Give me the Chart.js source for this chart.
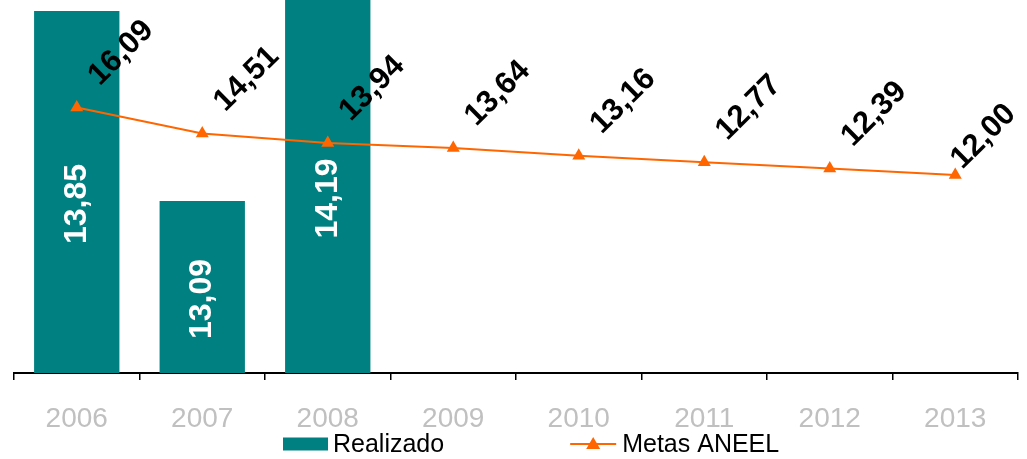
<!DOCTYPE html>
<html>
<head>
<meta charset="utf-8">
<script src="https://cdn.jsdelivr.net/npm/chart.js@4/dist/chart.umd.min.js"></script>
<style>
  body { margin: 0; background: #fff; }
  #caixa { width: 1027px; height: 459px; position: relative; }
</style>
</head>
<body>
<div id="caixa"><canvas id="grafico"></canvas></div>
<script>
const anos = ['2006', '2007', '2008', '2009', '2010', '2011', '2012', '2013'];
const realizado = [13.85, 13.09, 14.19, null, null, null, null, null];
const metasAneel = [16.09, 14.51, 13.94, 13.64, 13.16, 12.77, 12.39, 12.00];
const nomes = ['Realizado', 'Metas ANEEL'];

const corBarra = '#008080';
const corLinha = '#FF6600';
const fonte = '"Liberation Sans", Arial, sans-serif';

function fmt(v) {
    return v.toFixed(2).replace('.', ',');
}

// rotulos das barras (brancos, verticais) e da linha (pretos, inclinados)
const rotulos = {
    id: 'rotulos',
    afterDatasetsDraw(chart) {
        const ctx = chart.ctx;
        const area = chart.chartArea;
        const meta = chart.getDatasetMeta(0);
        meta.data.forEach((bar, i) => {
            const v = realizado[i];
            if (v == null) return;
            const pr = bar.getProps(['x', 'y'], true);
            const topo = Math.max(pr.y, area.top);
            const cy = (topo + area.bottom) / 2 + 12;
            ctx.save();
            ctx.translate(pr.x, cy);
            ctx.rotate(-Math.PI / 2);
            ctx.font = 'bold 32px ' + fonte;
            ctx.fillStyle = '#ffffff';
            ctx.textAlign = 'center';
            ctx.textBaseline = 'middle';
            ctx.fillText(fmt(v), 0, 0);
            ctx.restore();
        });
        chart.getDatasetMeta(1).data.forEach((p, i) => {
            const txt = fmt(metasAneel[i]);
            ctx.save();
            ctx.font = 'bold 31px ' + fonte;
            const w = ctx.measureText(txt).width;
            let x = p.x + 17, y = p.y - 27;
            const fim = x + w * 0.707 + 12;
            if (fim > chart.width - 4) {
                const d = fim - (chart.width - 4);
                x -= d; y += d;
            }
            ctx.translate(x, y);
            ctx.rotate(-Math.PI / 4);
            ctx.fillStyle = '#000';
            ctx.textAlign = 'left';
            ctx.textBaseline = 'middle';
            ctx.fillText(txt, 0, 0);
            ctx.restore();
        });
    }
};

// legenda desenhada a mao (linha com triangulo para as metas)
const legenda = {
    id: 'legenda',
    afterDraw(chart) {
        const ctx = chart.ctx;
        const y = 444;
        let x = chart.chartArea.left + 269;
        ctx.save();
        ctx.font = '25px ' + fonte;
        ctx.textBaseline = 'middle';
        ctx.textAlign = 'left';
        ctx.fillStyle = corBarra;
        ctx.fillRect(x, y - 6.5, 45, 13);
        ctx.fillStyle = '#000';
        ctx.fillText(nomes[0], x + 50, y + 1);
        x = x + 50 + ctx.measureText(nomes[0]).width + 126;
        ctx.strokeStyle = corLinha;
        ctx.lineWidth = 2;
        ctx.beginPath();
        ctx.moveTo(x, y);
        ctx.lineTo(x + 46, y);
        ctx.stroke();
        ctx.fillStyle = corLinha;
        ctx.beginPath();
        ctx.moveTo(x + 23, y - 7);
        ctx.lineTo(x + 30, y + 5);
        ctx.lineTo(x + 16, y + 5);
        ctx.closePath();
        ctx.fill();
        ctx.fillStyle = '#000';
        ctx.fillText(nomes[1], x + 52, y + 1);
        ctx.restore();
    }
};

new Chart(document.getElementById('grafico'), {
    data: {
        labels: anos,
        datasets: [{
            type: 'bar',
            label: nomes[0],
            data: realizado,
            backgroundColor: corBarra,
            yAxisID: 'y',
            categoryPercentage: 1,
            barPercentage: 0.68,
            order: 2
        }, {
            type: 'line',
            label: nomes[1],
            data: metasAneel,
            borderColor: corLinha,
            backgroundColor: corLinha,
            borderWidth: 2,
            pointStyle: 'triangle',
            pointRadius: 7.5,
            pointHoverRadius: 7.5,
            pointBorderWidth: 0,
            tension: 0,
            yAxisID: 'y1',
            order: 1
        }]
    },
    options: {
        responsive: true,
        maintainAspectRatio: false,
        animation: false,
        layout: { autoPadding: false, padding: { left: 14, right: 9, top: 0, bottom: 0 } },
        plugins: {
            legend: { display: false },
            tooltip: { enabled: false }
        },
        scales: {
            x: {
                offset: true,
                afterFit: (s) => { s.height = 86; },
                border: { display: true, color: '#000', width: 2 },
                grid: {
                    offset: true,
                    drawOnChartArea: false,
                    drawTicks: true,
                    tickLength: 7,
                    color: '#000',
                    lineWidth: 1.5
                },
                ticks: {
                    color: '#C0C0C0',
                    font: { family: fonte, size: 28 },
                    padding: 22,
                    maxRotation: 0
                }
            },
            y: {
                display: false,
                min: 12.402,
                max: 13.894
            },
            y1: {
                display: false,
                min: 0,
                max: 22.6
            }
        }
    },
    plugins: [rotulos, legenda]
});
</script>
</body>
</html>
